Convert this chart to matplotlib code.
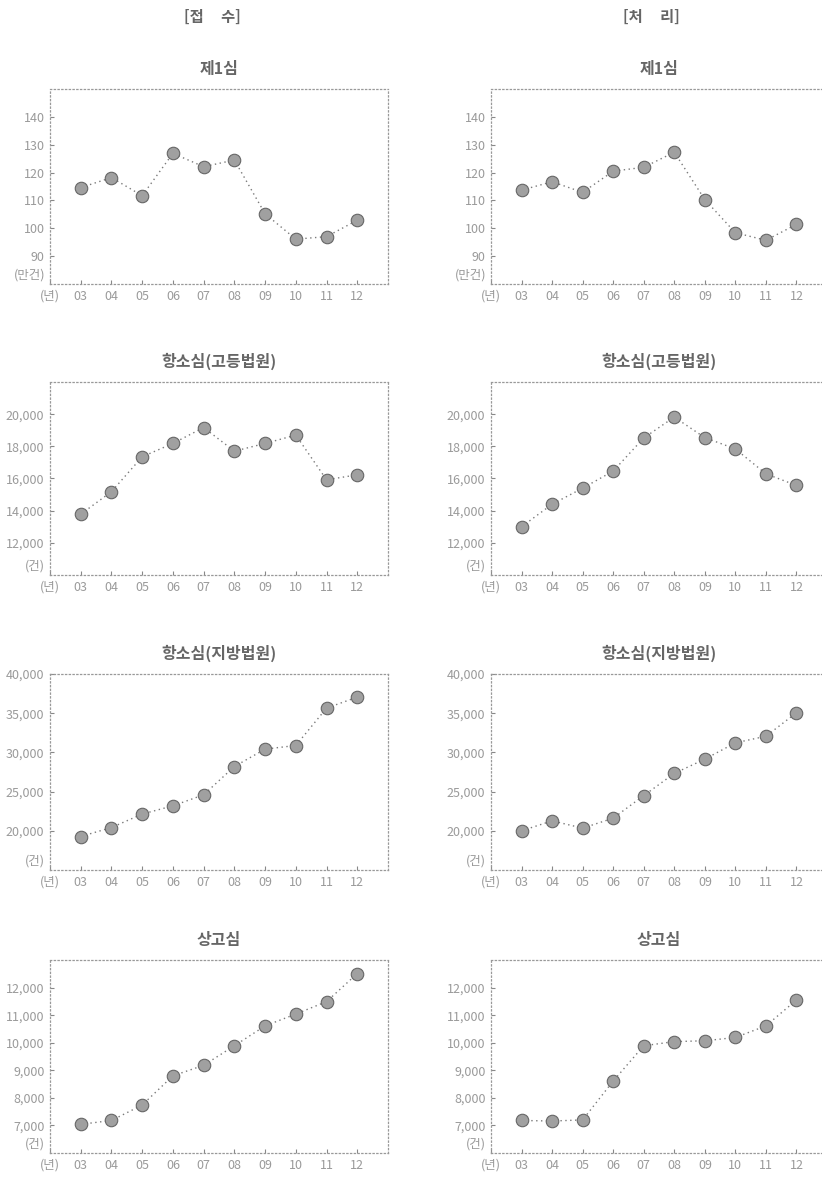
import matplotlib
matplotlib.use("Agg")
import matplotlib.pyplot as plt
import matplotlib.transforms as mtransforms
from matplotlib.ticker import FuncFormatter

plt.rcParams['font.family'] = ['Noto Sans CJK KR', 'DejaVu Sans']

years = ["03", "04", "05", "06", "07", "08", "09", "10", "11", "12"]
year_unit = "(년)"

col_titles = ["[접     수]", "[처     리]"]
row_titles = ["제1심", "항소심(고등법원)", "항소심(지방법원)", "상고심"]
units = ["(만건)", "(건)", "(건)", "(건)"]

# receipts (접수)
recv_first = [114.6, 118.2, 111.7, 126.9, 122.1, 124.5, 105.2, 96.1, 97.0, 102.9]
recv_high = [13780, 15180, 17350, 18180, 19170, 17700, 18180, 18700, 15920, 16230]
recv_district = [19270, 20420, 22130, 23190, 24590, 28200, 30420, 30880, 35650, 37050]
recv_supreme = [7040, 7180, 7740, 8800, 9180, 9890, 10610, 11040, 11490, 12510]

# dispositions (처리)
disp_first = [113.7, 116.7, 112.9, 120.5, 121.9, 127.3, 110.3, 98.4, 95.7, 101.4]
disp_high = [13000, 14400, 15400, 16460, 18520, 19820, 18540, 17840, 16290, 15570]
disp_district = [20000, 21270, 20340, 21610, 24490, 27320, 29140, 31220, 32060, 35060]
disp_supreme = [7180, 7160, 7200, 8610, 9890, 10040, 10070, 10190, 10610, 11550]

series = [
    [recv_first, disp_first],
    [recv_high, disp_high],
    [recv_district, disp_district],
    [recv_supreme, disp_supreme],
]

ylims = [(80, 150), (10000, 22000), (15000, 40000), (6000, 13000)]
yticks = [
    [90, 100, 110, 120, 130, 140],
    [12000, 14000, 16000, 18000, 20000],
    [20000, 25000, 30000, 35000, 40000],
    [7000, 8000, 9000, 10000, 11000, 12000],
]

W, H = 822, 1177
fig = plt.figure(figsize=(W / 100, H / 100), dpi=100)

col_left = [50, 491]
col_right = [388, 827]
row_top = [89, 382, 674, 960]
row_bot = [284, 575, 870, 1153]

grey_txt = "#9a9a9a"
line_col = "#7a7a7a"

for c in range(2):
    fig.text((c and 651 or 212) / W, 1 - 17 / H, col_titles[c], ha="center", va="center",
             fontsize=11, color="#666666", fontweight="bold")
    for r in range(4):
        x0 = col_left[c] / W
        w = (col_right[c] - col_left[c]) / W
        y0 = 1 - row_bot[r] / H
        h = (row_bot[r] - row_top[r]) / H
        ax = fig.add_axes([x0, y0, w, h])
        xs = list(range(len(years)))
        ax.plot(xs, series[r][c], linestyle=(0, (1, 2.5)), color=line_col, linewidth=1.0,
                marker="o", markersize=9, markerfacecolor="#a0a0a0",
                markeredgecolor="#666666", markeredgewidth=0.8)
        ax.set_xlim(-1, 10)
        ax.set_ylim(*ylims[r])
        ax.set_xticks([-1] + xs)
        ax.set_xticklabels([year_unit] + years)
        ax.set_yticks(yticks[r])
        if r == 0:
            ax.yaxis.set_major_formatter(FuncFormatter(lambda v, p: f"{int(v)}"))
        else:
            ax.yaxis.set_major_formatter(FuncFormatter(lambda v, p: f"{int(v):,}"))
        ax.tick_params(direction="in", length=3, width=0.8, colors="#888888",
                       labelcolor=grey_txt, labelsize=9, pad=4)
        for sp in ax.spines.values():
            sp.set_linestyle((0, (1, 2)))
            sp.set_color("#999999")
            sp.set_linewidth(0.9)
        trans = mtransforms.blended_transform_factory(ax.transAxes, ax.transData)
        lo, hi = ylims[r]
        ax.text(-0.015, lo + (hi - lo) * 0.045, units[r], transform=trans, ha="right",
                va="center", fontsize=9, color=grey_txt)
        ax.set_title(row_titles[r], fontsize=11.5, color="#666666", fontweight="bold", pad=11)

fig.savefig("out.png", dpi=100)
